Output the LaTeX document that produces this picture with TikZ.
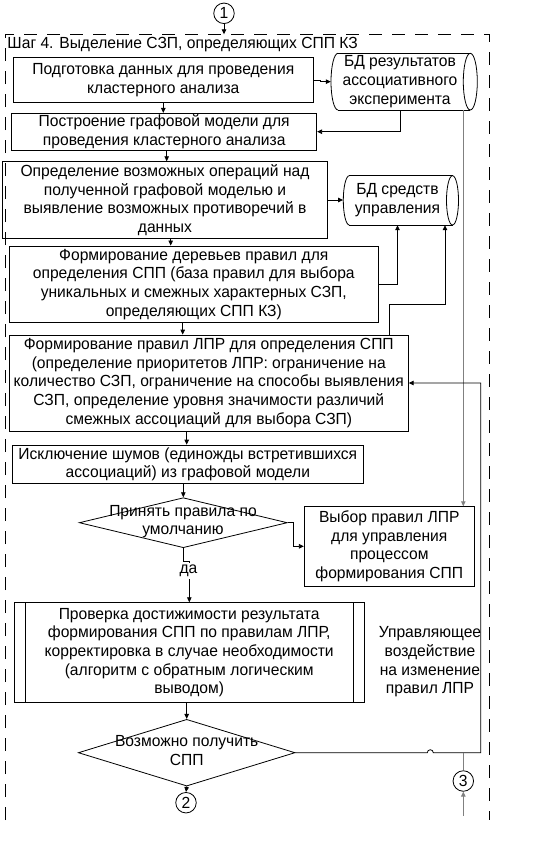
\documentclass[tikz,border=0pt]{standalone}
\usepackage{fontspec}
\setmainfont[FakeStretch=0.97]{Liberation Sans}
\usetikzlibrary{arrows.meta,shapes.geometric,calc}
\definecolor{lg}{RGB}{128,128,128}
\begin{document}
\begin{tikzpicture}[x=1pt,y=-1pt,
  font=\fontsize{16.1}{18.7}\selectfont,
  every node/.style={inner sep=0pt},
  ln/.style={line width=0.8pt},
  box/.style={draw, ln, align=center},
  lbl/.style={align=center},
  dia/.style={draw, ln, diamond},
  conn/.style={draw, ln, circle, minimum size=20.5pt},
  arr/.style={ln, -{Triangle[length=5pt,width=4.5pt]}},
  gline/.style={line width=1pt, draw=lg},
  garr/.style={gline, -{Triangle[length=5pt,width=4.5pt]}},
  frame/.style={line width=0.8pt, dash pattern=on 13pt off 10pt}
]
\useasboundingbox (0,0) rectangle (535,852);

% frame
\draw[frame] (5,820) -- (5,34.3) -- (489.3,34.3) -- (489.3,820);
\coordinate (ftop) at (224,34.3);
\node[anchor=west] (title) at (7.3,45) {Шаг 4. Выделение СЗП, определяющих СПП КЗ};

% connectors
\node[conn] (c1) at (224,13.3) {1};
\node[conn] (c2) at (186,802.7) {2};
\node[conn] (c3) at (463.3,781) {3};

% boxes
\node[box, minimum width=300pt, minimum height=45.4pt] (b1) at (163.3,80) {Подготовка данных для проведения\\кластерного анализа};
\node[box, minimum width=305pt, minimum height=36.7pt] (b2) at (164.2,131.7) {Построение графовой модели для\\проведения кластерного анализа};
\node[box, minimum width=324.6pt, minimum height=76.6pt] (b3) at (165,200) {Определение возможных операций над\\полученной графовой моделью и\\выявление возможных противоречий в\\данных};
\node[box, minimum width=369pt, minimum height=76.7pt] (b4) at (193.8,284.3) {Формирование деревьев правил для\\определения СПП (база правил для выбора\\уникальных и смежных характерных СЗП,\\определяющих СПП КЗ)};
\node[box, minimum width=399pt, minimum height=96pt] (b5) at (208.8,383) {Формирование правил ЛПР для определения СПП\\(определение приоритетов ЛПР: ограничение на\\количество СЗП, ограничение на способы выявления\\СЗП, определение уровня значимости различий\\смежных ассоциаций для выбора СЗП)};
\node[box, minimum width=351pt, minimum height=38.3pt] (b6) at (187.8,464.2) {Исключение шумов (единожды встретившихся\\ассоциаций) из графовой модели};
\node[box, minimum width=170pt, minimum height=79.3pt] (vy) at (389.3,546.3) {Выбор правил ЛПР\\для управления\\процессом\\формирования СПП};
\node[box, minimum width=350.3pt, minimum height=100pt] (b7) at (189.2,652.7) {Проверка достижимости результата\\формирования СПП по правилам ЛПР,\\корректировка в случае необходимости\\(алгоритм с обратным логическим\\выводом)};
\draw[ln] ($(b7.north west)+(11.7,0)$) -- ($(b7.south west)+(11.7,0)$);
\draw[ln] ($(b7.north east)+(-11,0)$) -- ($(b7.south east)+(-11,0)$);

% diamonds
\node[dia, minimum width=208pt, minimum height=50pt] (d1) at (183.3,522.7) {};
\node[lbl] (d1t) at (183,521.7) {Принять правила по\\умолчанию};
\node[dia, minimum width=216.7pt, minimum height=66.7pt] (d2) at (186.7,752.7) {};
\node[lbl] (d2t) at (186.7,750.5) {Возможно получить\\СПП};

% cylinders
\draw[ln] (338,53.3) -- (470.3,53.3) (338,110) -- (470.3,110);
\draw[ln] (338,53.3) arc[start angle=90,end angle=270,x radius=7pt,y radius=28.35pt];
\draw[ln] (470.3,81.65) ellipse[x radius=7pt,y radius=28.35pt];
\node[lbl, minimum width=138pt, minimum height=56.7pt] (cyl1) at (400,81.65) {БД результатов\\ассоциативного\\эксперимента};
\draw[ln] (349.3,175.7) -- (452.5,175.7) (349.3,225) -- (452.5,225);
\draw[ln] (349.3,175.7) arc[start angle=90,end angle=270,x radius=6pt,y radius=24.65pt];
\draw[ln] (452.5,200.35) ellipse[x radius=6pt,y radius=24.65pt];
\node[lbl, minimum width=108.4pt, minimum height=49.3pt] (cyl2) at (397.5,200.35) {БД средств\\управления};

\node[lbl] (ctl) at (430,662) {Управляющее\\воздействие\\на изменение\\правил ЛПР};

% connections
\draw[arr] (c1) -- (ftop);
\draw[arr] (b1.south) -- (b1.south |- b2.north);
\draw[arr] (b1.east) -- ++(7,0) |- (cyl1.west);
\draw[arr] (cyl1.south) |- (b2.east);
\coordinate (g1) at (463.3,110);
\draw[garr] (g1) -- (g1 |- vy.north);
\draw[arr] (b2.south -| 166.7,0) -- (b3.north -| 166.7,0);
\draw[arr] (b3.east) -- (b3.east -| cyl2.west);
\draw[arr] (b3.south -| 170.7,0) -- (b4.north -| 170.7,0);
\draw[arr] (b4.east) -| (cyl2.south);
\coordinate (k5) at (445,304);
\draw[arr] (b5.north -| 389.3,0) |- (k5) -- (k5 |- cyl2.south);
\draw[arr] (b4.south -| 182.7,0) -- (b5.north -| 182.7,0);
\draw[arr] (b5.south -| 186.7,0) -- (b6.north -| 186.7,0);
\draw[arr] (b6.south -| d1.north) -- (d1.north);
\draw[arr] (d1.east) -- ++(6,0) |- (vy.west);
\draw[arr] (d1.south) -- ++(0,13.3) -| (b7.north -| 189.3,0);
\node[fill=white, inner sep=2pt] (da) at (188.5,571) {да};
\draw[arr] (b7.south -| d2.north) -- (d2.north);
\draw[arr] (d2.south) -- (c2.north);
\coordinate (hop) at (427.3,752.7);
\coordinate (rt) at (480.7,752.7);
\draw[arr] (d2.east) -- (hop) arc(180:0:3pt) -- (rt) |- (b5.east);
\draw[gline] (c3.north) -- (c3.north |- rt);
\coordinate (c3in) at (463.3,815.7);
\draw[garr] (c3in) -- (c3.south);
\end{tikzpicture}
\end{document}
